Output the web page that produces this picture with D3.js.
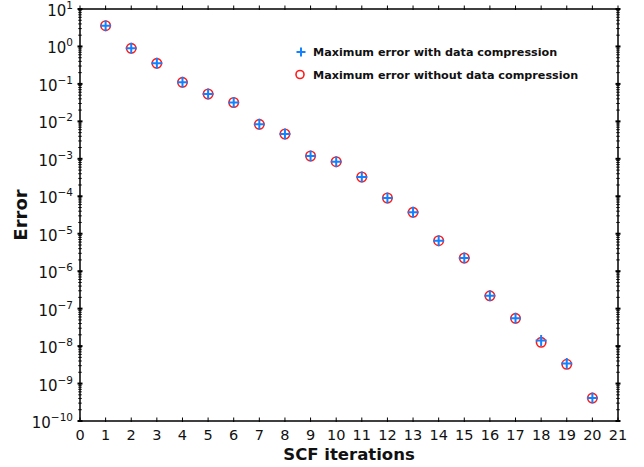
<!DOCTYPE html>
<html>
<head>
<meta charset="utf-8">
<script src="https://cdn.jsdelivr.net/npm/d3@7/dist/d3.min.js"></script>
<style>
  html, body { margin: 0; padding: 0; background: #fff; }
  svg { display: block; }
  text { font-family: "DejaVu Sans", sans-serif; fill: #111; }
</style>
</head>
<body>
<svg id="chart" width="644" height="467"></svg>
<script>
// ---- data ----
const iterations = [1,2,3,4,5,6,7,8,9,10,11,12,13,14,15,16,17,18,19,20];
const errWithCompression = [3.58, 0.893, 0.355, 0.110, 0.0538, 0.0319, 0.00835, 0.0046, 0.00119, 8.4e-4, 3.27e-4, 9.0e-5, 3.73e-5, 6.5e-6, 2.25e-6, 2.2e-7, 5.5e-8, 1.41e-8, 3.43e-9, 4.1e-10];
const errWithoutCompression = [3.58, 0.893, 0.355, 0.110, 0.0538, 0.0319, 0.00835, 0.0046, 0.00119, 8.4e-4, 3.27e-4, 9.0e-5, 3.73e-5, 6.5e-6, 2.25e-6, 2.2e-7, 5.5e-8, 1.26e-8, 3.27e-9, 4.1e-10];
const xTicks = d3.range(0, 22);
const yExponents = [1,0,-1,-2,-3,-4,-5,-6,-7,-8,-9,-10];
const seriesNames = ["Maximum error with data compression", "Maximum error without data compression"];
const xTitle = "SCF iterations";
const yTitle = "Error";

// ---- layout ----
const svg = d3.select("#chart");
const pL = 80, pR = 618, pT = 9, pB = 421;
const x = d3.scaleLinear().domain([0, 21]).range([pL, pR]);
const y = d3.scaleLog().domain([1e-10, 10]).range([pB, pT]);
const blue = "#1482ff", red = "#ff1a1a";

// frame
svg.append("rect").attr("x", pL).attr("y", pT).attr("width", pR - pL).attr("height", pB - pT)
  .attr("fill", "none").attr("stroke", "#000").attr("stroke-width", 1.5);

// x ticks bottom & top
const gx = svg.append("g");
xTicks.forEach(t => {
  gx.append("line").attr("x1", x(t)).attr("x2", x(t)).attr("y1", pB - 3.5).attr("y2", pB + 1)
    .attr("stroke", "#000").attr("stroke-width", 1);
  gx.append("line").attr("x1", x(t)).attr("x2", x(t)).attr("y1", pT - 3.5).attr("y2", pT + 1)
    .attr("stroke", "#000").attr("stroke-width", 1);
  gx.append("text").attr("x", x(t)).attr("y", 440).attr("text-anchor", "middle")
    .attr("font-size", 14.5).text(t);
});

// y ticks (major & minor) left & right
const gy = svg.append("g");
yExponents.forEach(e => {
  const v = Math.pow(10, e);
  [pL, pR].forEach(ax => {
    gy.append("line").attr("x1", ax - 2.5).attr("x2", ax + 2.5).attr("y1", y(v)).attr("y2", y(v))
      .attr("stroke", "#000").attr("stroke-width", 2);
  });
  if (e > -10) {
    for (let m = 2; m <= 9; m++) {
      const mv = m * Math.pow(10, e - 1);
      [pL, pR].forEach(ax => {
        gy.append("line").attr("x1", ax - 1.8).attr("x2", ax + 1.8).attr("y1", y(mv)).attr("y2", y(mv))
          .attr("stroke", "#000").attr("stroke-width", 0.9);
      });
    }
  }
  const lbl = gy.append("text").attr("x", 73).attr("y", y(v) + 7).attr("text-anchor", "end")
    .attr("font-size", 15);
  lbl.append("tspan").text("10");
  lbl.append("tspan").attr("dy", -7).attr("font-size", 10.5)
    .text(e < 0 ? "\u2212" + Math.abs(e) : String(e));
});

// axis titles
svg.append("text").attr("x", (pL + pR) / 2).attr("y", 460).attr("text-anchor", "middle")
  .attr("font-size", 16.5).attr("font-weight", "bold").text(xTitle);
svg.append("text").attr("transform", `translate(26.5,${(pT + pB) / 2}) rotate(-90)`)
  .attr("text-anchor", "middle").attr("font-size", 18).attr("font-weight", "bold").text(yTitle);

// markers: circles (without compression)
const pts = svg.append("g");
pts.selectAll("circle.m").data(iterations.map((it, i) => [it, errWithoutCompression[i]])).join("circle")
  .attr("class", "m").attr("cx", d => x(d[0])).attr("cy", d => y(d[1])).attr("r", 4.7)
  .attr("fill", "none").attr("stroke", red).attr("stroke-width", 1.6);
// crosses (with compression)
const crossData = iterations.map((it, i) => [it, errWithCompression[i]]);
const cs = 5.5;
pts.selectAll("path.c").data(crossData).join("path").attr("class", "c")
  .attr("d", d => `M${x(d[0]) - cs},${y(d[1])}H${x(d[0]) + cs}M${x(d[0])},${y(d[1]) - cs}V${y(d[1]) + cs}`)
  .attr("stroke", blue).attr("stroke-width", 2).attr("fill", "none");

// legend
const lg = svg.append("g");
lg.append("path").attr("d", `M${301 - 4.5},52H${301 + 4.5}M301,${52 - 4.5}V${52 + 4.5}`)
  .attr("stroke", blue).attr("stroke-width", 2);
lg.append("circle").attr("cx", 300).attr("cy", 74.5).attr("r", 4).attr("fill", "none")
  .attr("stroke", red).attr("stroke-width", 1.6);
lg.append("text").attr("x", 313).attr("y", 56).attr("font-size", 11.2).attr("font-weight", "bold").text(seriesNames[0]);
lg.append("text").attr("x", 313).attr("y", 78.5).attr("font-size", 11.2).attr("font-weight", "bold").text(seriesNames[1]);
</script>
</body>
</html>
